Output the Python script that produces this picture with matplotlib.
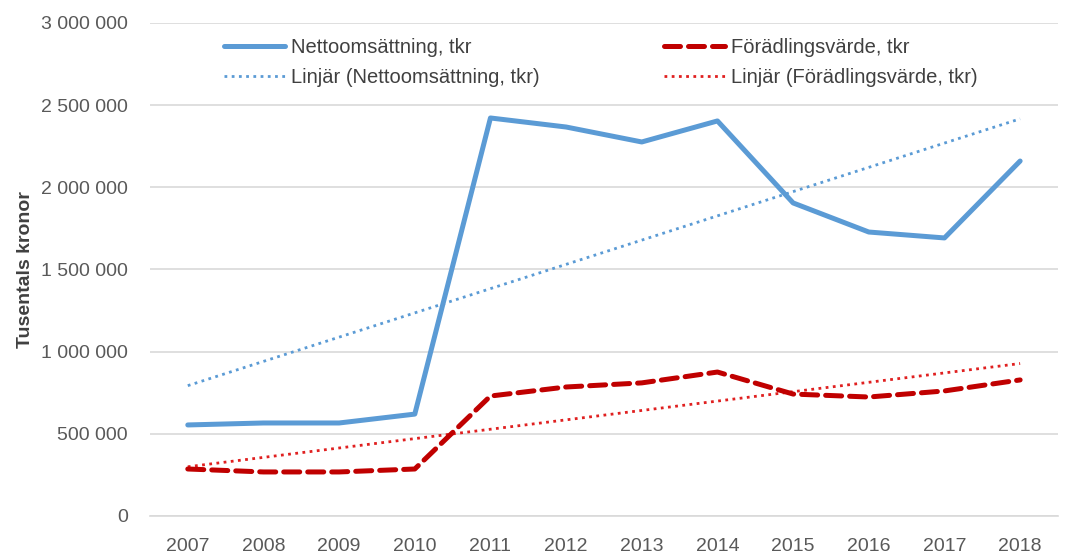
import matplotlib
matplotlib.use("Agg")
import matplotlib.pyplot as plt
from matplotlib.ticker import FuncFormatter
import numpy as np

years = ["2007", "2008", "2009", "2010", "2011", "2012", "2013", "2014", "2015", "2016", "2017", "2018"]
netto = [554000, 566000, 566000, 620000, 2422000, 2367000, 2276000, 2404000, 1905000, 1728000, 1692000, 2160000]
foradling = [286000, 268000, 268000, 286000, 730000, 785000, 810000, 876000, 742000, 724000, 761000, 828000]
yticks = [0, 500000, 1000000, 1500000, 2000000, 2500000, 3000000]

plt.rcParams['font.family'] = ['Liberation Sans Narrow', 'Liberation Sans', 'DejaVu Sans']

fig = plt.figure(figsize=(10.68, 5.54), dpi=100)
ax = fig.add_axes([0.1404, 0.0686, 0.8502, 0.8899])

x = np.arange(len(years))
blue = '#5B9BD5'
red = '#C00000'

l1, = ax.plot(x, netto, color=blue, lw=3.6, solid_capstyle='round', solid_joinstyle='round',
              label='Nettoomsättning, tkr', zorder=3)
l2, = ax.plot(x, foradling, color=red, lw=3.6, ls=(0, (3.2, 1.6)), dash_capstyle='round',
              label='Förädlingsvärde, tkr', zorder=3)

p1 = np.polyfit(x, netto, 1)
p2 = np.polyfit(x, foradling, 1)
l3, = ax.plot(x, np.polyval(p1, x), color=blue, lw=2.0, ls=(0, (1, 1.6)),
              label='Linjär (Nettoomsättning, tkr)', zorder=2)
l4, = ax.plot(x, np.polyval(p2, x), color='#E02020', lw=2.0, ls=(0, (1, 1.6)),
              label='Linjär (Förädlingsvärde, tkr)', zorder=2)

ax.set_xlim(-0.5, len(years) - 0.5)
ax.set_ylim(0, 3000000)
ax.set_yticks(yticks)
ax.yaxis.set_major_formatter(FuncFormatter(lambda v, p: f"{int(v):,}".replace(",", " ")))
ax.set_xticks(x)
ax.set_xticklabels(years)
ax.grid(axis='y', color='#d9d9d9', lw=1.2)
ax.set_axisbelow(True)
for s in ['top', 'right', 'left']:
    ax.spines[s].set_visible(False)
ax.spines['bottom'].set_color('#d9d9d9')
ax.spines['bottom'].set_linewidth(1.2)
ax.tick_params(axis='both', length=0, labelsize=14, colors='#595959')
ax.tick_params(axis='x', pad=16)
ax.tick_params(axis='y', pad=16)

ax.set_ylabel('Tusentals kronor', fontsize=14, fontweight='bold', color='#404040')
ax.yaxis.set_label_coords(-0.128, 0.5)

leg = ax.legend(handles=[l1, l3, l2, l4], ncol=2, loc='upper left', bbox_to_anchor=(0.062, 1.006),
                frameon=False, fontsize=14.5, handlelength=3.0, handletextpad=0.3,
                columnspacing=6.2, labelspacing=0.55)
for t in leg.get_texts():
    t.set_color('#404040')

fig.savefig('out.png', dpi=100)
